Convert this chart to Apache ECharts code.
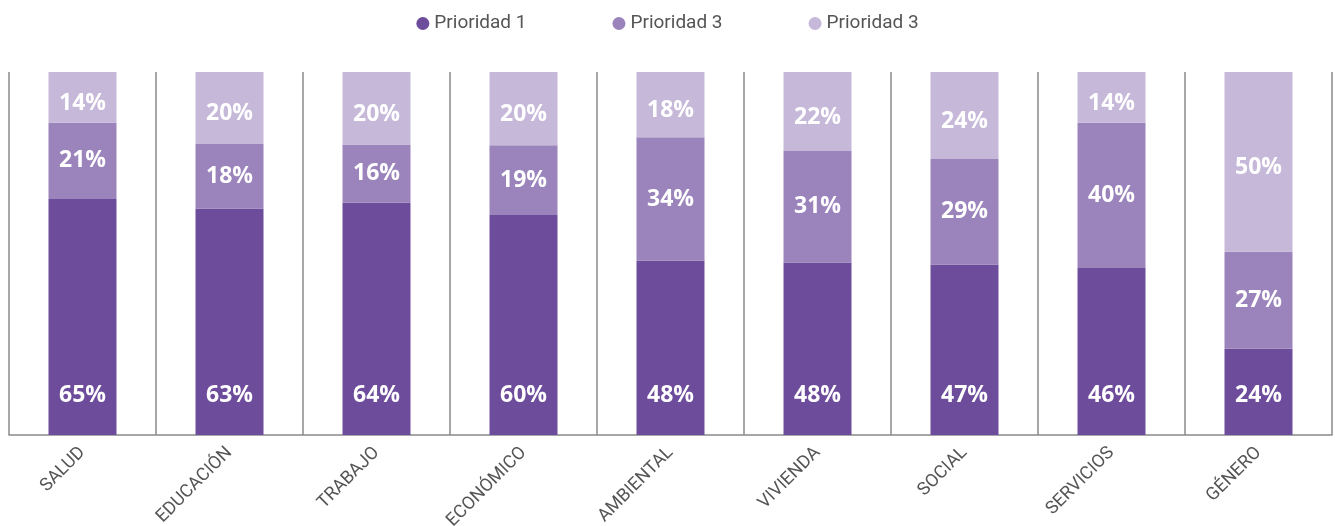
<!DOCTYPE html>
<html>
<head>
<meta charset="utf-8">
<script src="https://cdn.jsdelivr.net/npm/echarts@6/dist/echarts.min.js"></script>
<style>
  html, body { margin: 0; padding: 0; background: #fff; }
  #chart { width: 1335px; height: 526px; }
</style>
</head>
<body>
<div id="chart"></div>
<script>
const categories = ['SALUD', 'EDUCACIÓN', 'TRABAJO', 'ECONÓMICO', 'AMBIENTAL', 'VIVIENDA', 'SOCIAL', 'SERVICIOS', 'GÉNERO']
const seriesKeys = ['p1', 'p2', 'p3']
const seriesNames = ['Prioridad 1', 'Prioridad 3', 'Prioridad 3']
const prioridad1 = [65, 63, 64, 60, 48, 48, 47, 46, 24]
const prioridad2 = [21, 18, 16, 19, 34, 31, 29, 40, 27]
const prioridad3 = [14, 20, 20, 20, 18, 22, 24, 14, 50]

const colors = ['#6e4c9c', '#9b83bb', '#c6b8d9']

// each bar is drawn as a share of its own total, labels keep the printed value
const totals = categories.map((_, i) => prioridad1[i] + prioridad2[i] + prioridad3[i])
const toShare = (arr) => arr.map((v, i) => ({ value: v / totals[i] * 100, raw: v }))

const labelBase = {
  show: true,
  color: '#fff',
  fontFamily: 'Open Sans',
  fontWeight: 'bold',
  fontSize: 23,
  formatter: (p) => p.data.raw + '%'
}

const chart = echarts.init(document.getElementById('chart'))

const option = {
  animation: false,
  legend: {
    top: 9,
    left: 'center',
    icon: 'circle',
    itemWidth: 13,
    itemHeight: 13,
    itemGap: 86,
    textStyle: { color: '#555', fontFamily: 'Roboto', fontSize: 19 },
    formatter: (name) => seriesNames[seriesKeys.indexOf(name)],
    data: seriesKeys
  },
  grid: {
    left: 9,
    right: 3,
    top: 72,
    bottom: 91,
    containLabel: false,
    outerBoundsMode: 'none'
  },
  xAxis: {
    type: 'category',
    data: categories,
    axisLine: { lineStyle: { color: '#8a8a8a', width: 1.5 } },
    axisTick: { show: false },
    splitLine: { show: true, lineStyle: { color: '#8a8a8a', width: 1.5 } },
    axisLabel: {
      rotate: 45,
      margin: 15,
      color: '#555',
      fontFamily: 'Roboto',
      fontSize: 18,
      interval: 0
    }
  },
  yAxis: {
    type: 'value',
    min: 0,
    max: 100,
    show: false
  },
  series: [
    {
      name: seriesKeys[0],
      type: 'bar',
      stack: 'total',
      barWidth: 68,
      itemStyle: { color: colors[0] },
      label: { ...labelBase, position: 'insideBottom', distance: 28 },
      data: toShare(prioridad1)
    },
    {
      name: seriesKeys[1],
      type: 'bar',
      stack: 'total',
      barWidth: 68,
      itemStyle: { color: colors[1] },
      label: { ...labelBase, position: 'inside' },
      data: toShare(prioridad2)
    },
    {
      name: seriesKeys[2],
      type: 'bar',
      stack: 'total',
      barWidth: 68,
      itemStyle: { color: colors[2] },
      label: { ...labelBase, position: 'inside', offset: [0, 6] },
      data: toShare(prioridad3)
    }
  ]
}

chart.setOption(option)
</script>
</body>
</html>
